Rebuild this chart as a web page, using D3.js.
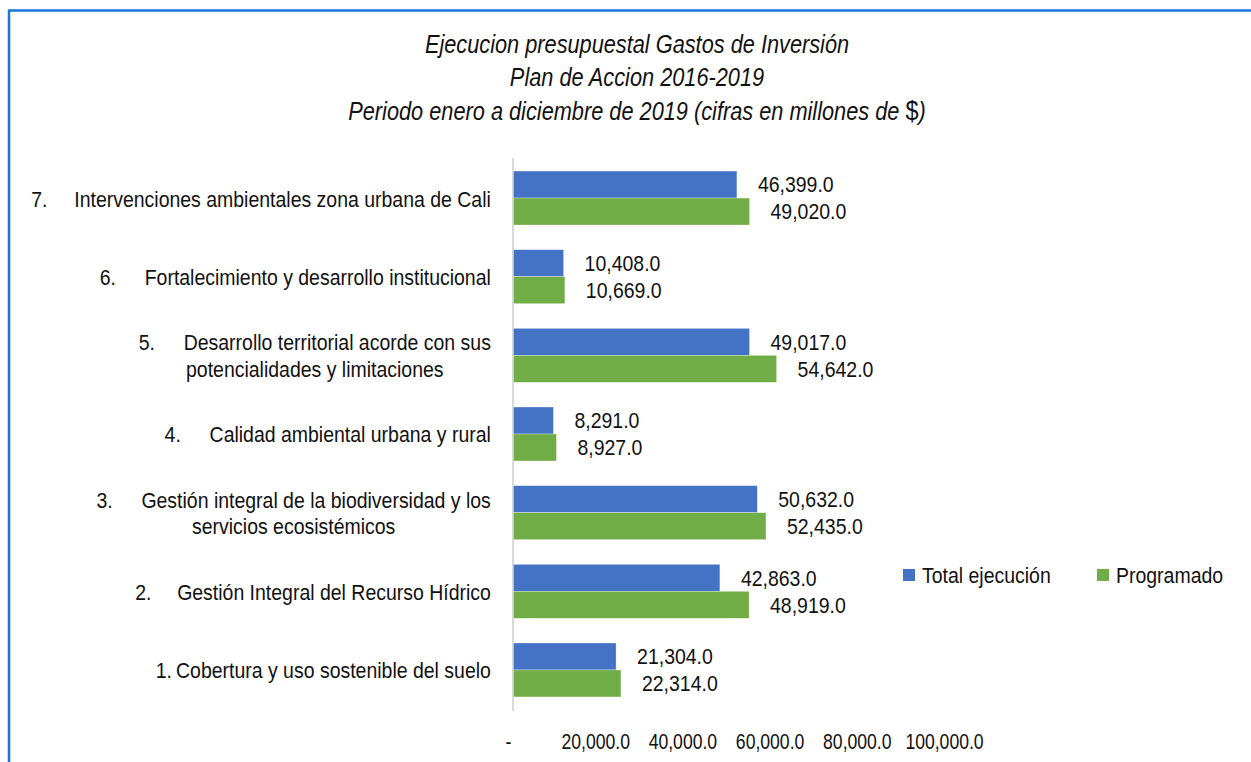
<!DOCTYPE html>
<html>
<head>
<meta charset="utf-8">
<script src="https://cdn.jsdelivr.net/npm/d3@7"></script>
<style>
  html, body { margin: 0; padding: 0; background: #fff; }
  svg { display: block; }
  text { font-family: "Liberation Sans", Arimo, Arial, sans-serif; fill: #111; }
</style>
</head>
<body>
<svg id="chart" width="1251" height="762"></svg>
<script>
// Investment programs (bottom to top) and their budget figures, millions of $
const itemNumbers = ["1.", "2.", "3.", "4.", "5.", "6.", "7."];
const categoryLines = [
  ["Cobertura y uso sostenible del suelo"],
  ["Gestión Integral del Recurso Hídrico"],
  ["Gestión integral de la biodiversidad y los", "servicios ecosistémicos"],
  ["Calidad ambiental urbana y rural"],
  ["Desarrollo territorial acorde con sus", "potencialidades y limitaciones"],
  ["Fortalecimiento y desarrollo institucional"],
  ["Intervenciones ambientales zona urbana de Cali"]
];
const totalEjecucion = [21304, 42863, 50632, 8291, 49017, 10408, 46399];
const programado = [22314, 48919, 52435, 8927, 54642, 10669, 49020];
const seriesNames = ["Total ejecución", "Programado"];
const tickValues = [0, 20000, 40000, 60000, 80000, 100000];
const titleLines = [
  "Ejecucion presupuestal Gastos de Inversión",
  "Plan de Accion 2016-2019",
  "Periodo enero a diciembre de 2019 (cifras en millones de "
];

const colors = ["#4472C4", "#70AD47"];
const svg = d3.select("#chart");
const W = 1251, H = 762;
// narrow face: regular sans squeezed horizontally
const NARROW = 0.885, FS = "22px";
// tab advance from list number to label text, per category (layout only)
const tabAdvance = [20, 42, 45, 45, 45, 45, 43];

// frame lines on top and left
svg.append("line").attr("x1", 9).attr("x2", W).attr("y1", 10.5).attr("y2", 10.5)
  .attr("stroke", "#1b75dc").attr("stroke-width", 2.5);
svg.append("line").attr("x1", 9).attr("x2", 9).attr("y1", 9.5).attr("y2", H)
  .attr("stroke", "#1b75dc").attr("stroke-width", 2.5);

// title
const titleY = [53, 86, 120];
titleLines.forEach((t, i) => {
  const line = svg.append("text")
    .attr("transform", `translate(637,${titleY[i]}) scale(0.87,1)`)
    .attr("text-anchor", "middle").style("font-style", "italic").style("font-size", "25px");
  line.append("tspan").text(t);
  if (i === 2) {
    line.append("tspan").style("font-style", "normal").style("font-size", "27px").text("$");
    line.append("tspan").text(")");
  }
});

// scales
const idx = d3.range(categoryLines.length);
const x = d3.scaleLinear().domain([0, 100000]).range([513.5, 995]);
const y = d3.scaleBand().domain(idx.slice().reverse()).range([158.7, 709.3])
  .paddingInner(0.314).paddingOuter(0.157);
const ySub = d3.scaleBand().domain([0, 1]).range([0, y.bandwidth()]);

// vertical category axis line
svg.append("line").attr("x1", 513).attr("x2", 513).attr("y1", 158).attr("y2", 711)
  .attr("stroke", "#d9d9d9").attr("stroke-width", 2);

const series = [totalEjecucion, programado];
const fmt = d3.format(",.1f");

const groups = svg.selectAll("g.cat").data(idx).join("g").attr("class", "cat")
  .attr("transform", d => `translate(0,${y(d)})`);

series.forEach((vals, s) => {
  groups.append("rect")
    .attr("x", x(0))
    .attr("y", ySub(s))
    .attr("width", d => x(vals[d]) - x(0))
    .attr("height", ySub.bandwidth())
    .attr("fill", colors[s])
    .attr("stroke", "#ffffff").attr("stroke-opacity", 0.5).attr("stroke-width", 0.6);
  groups.append("text")
    .attr("transform", d => `translate(${x(vals[d]) + 21},${ySub(s) + ySub.bandwidth() / 2}) scale(${NARROW},1)`)
    .attr("dominant-baseline", "central")
    .style("font-size", FS)
    .text(d => fmt(vals[d]));
});

// category labels: numbered, block right-aligned to the axis, lines centred
const labelRight = 491, lineH = 27;
idx.forEach(i => {
  const lines = categoryLines[i];
  const cy = y(i) + y.bandwidth() / 2;
  const g = svg.append("g");
  const items = lines.map((ln, k) => {
    const ly = cy + (k - (lines.length - 1) / 2) * lineH;
    const t = g.append("text").attr("dominant-baseline", "central").style("font-size", FS);
    let w;
    if (k === 0) {
      const num = t.append("tspan").text(itemNumbers[i]);
      const nw = num.node().getComputedTextLength() * NARROW;
      const gap = Math.max(4, tabAdvance[i] - nw);
      const body = t.append("tspan").attr("dx", gap / NARROW).text(ln);
      w = nw + gap + body.node().getComputedTextLength() * NARROW;
    } else {
      t.text(ln);
      w = t.node().getComputedTextLength() * NARROW;
    }
    return { t, w, ly };
  });
  const maxW = d3.max(items, d => d.w);
  const center = labelRight - maxW / 2;
  items.forEach(d => d.t.attr("transform", `translate(${center - d.w / 2},${d.ly}) scale(${NARROW},1)`));
});

// value axis tick labels on an evenly spaced track below the plot
const tickScale = d3.scaleLinear().domain([0, 100000]).range([508, 944]);
const axis = svg.append("g").attr("transform", "translate(0,741)")
  .call(d3.axisBottom(tickScale).tickValues(tickValues).tickSize(0).tickPadding(0)
    .tickFormat(v => v === 0 ? "-" : fmt(v)));
axis.select(".domain").remove();
axis.attr("font-family", null).attr("font-size", null);
axis.selectAll("text").attr("dy", null).attr("y", 0)
  .attr("dominant-baseline", "central")
  .attr("transform", "scale(0.8,1)")
  .style("font-size", FS).attr("fill", "#111");

// legend
const legend = svg.append("g").attr("transform", "translate(903,575)");
const legendX = [0, 194];
seriesNames.forEach((n, s) => {
  const lg = legend.append("g").attr("transform", `translate(${legendX[s]},0)`);
  lg.append("rect").attr("x", 0).attr("y", -6).attr("width", 12).attr("height", 12).attr("fill", colors[s]);
  lg.append("text").attr("transform", `translate(19,0) scale(${NARROW},1)`)
    .attr("dominant-baseline", "central")
    .style("font-size", FS).text(n);
});
</script>
</body>
</html>
